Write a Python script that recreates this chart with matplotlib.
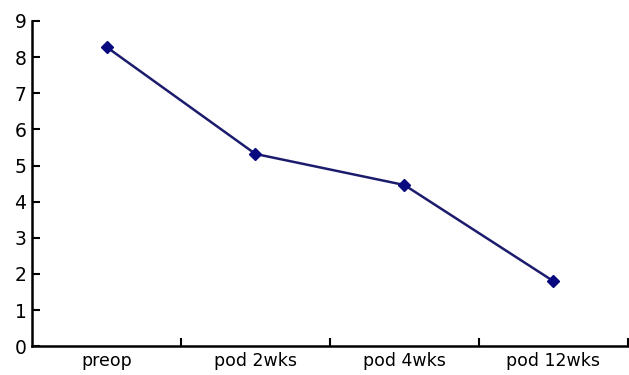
import matplotlib
matplotlib.use("Agg")
import matplotlib.pyplot as plt
import numpy as np

categories = ["preop", "pod 2wks", "pod 4wks", "pod 12wks"]
values = [8.28, 5.32, 4.46, 1.80]

fig = plt.figure(figsize=(6.29, 3.75), dpi=100)
ax = fig.add_axes([0.051, 0.077, 0.947, 0.867])

x = np.arange(len(categories))
ax.plot(x, values, color="#1c1c6e", lw=1.8, marker="D", ms=6,
        markerfacecolor="#0a0a80", markeredgecolor="#0a0a80")

ax.set_xlim(-0.5, len(categories) - 0.5)
ax.set_ylim(0, 9)
ax.set_yticks(range(10))

# category labels at centres, tick marks at the boundaries
ax.set_xticks(x)
ax.set_xticklabels(categories, fontsize=12.5)
ax.tick_params(axis="x", length=0, pad=4)
ax.set_xticks(np.arange(0.5, len(categories)), minor=True)
ax.tick_params(axis="x", which="minor", direction="in", length=6, width=1.5)
ax.tick_params(axis="y", direction="in", length=6, width=1.5, labelsize=13.5, pad=4)

for s in ["top", "right"]:
    ax.spines[s].set_visible(False)
for s in ["left", "bottom"]:
    ax.spines[s].set_linewidth(1.8)

fig.savefig("out.png", dpi=100)
